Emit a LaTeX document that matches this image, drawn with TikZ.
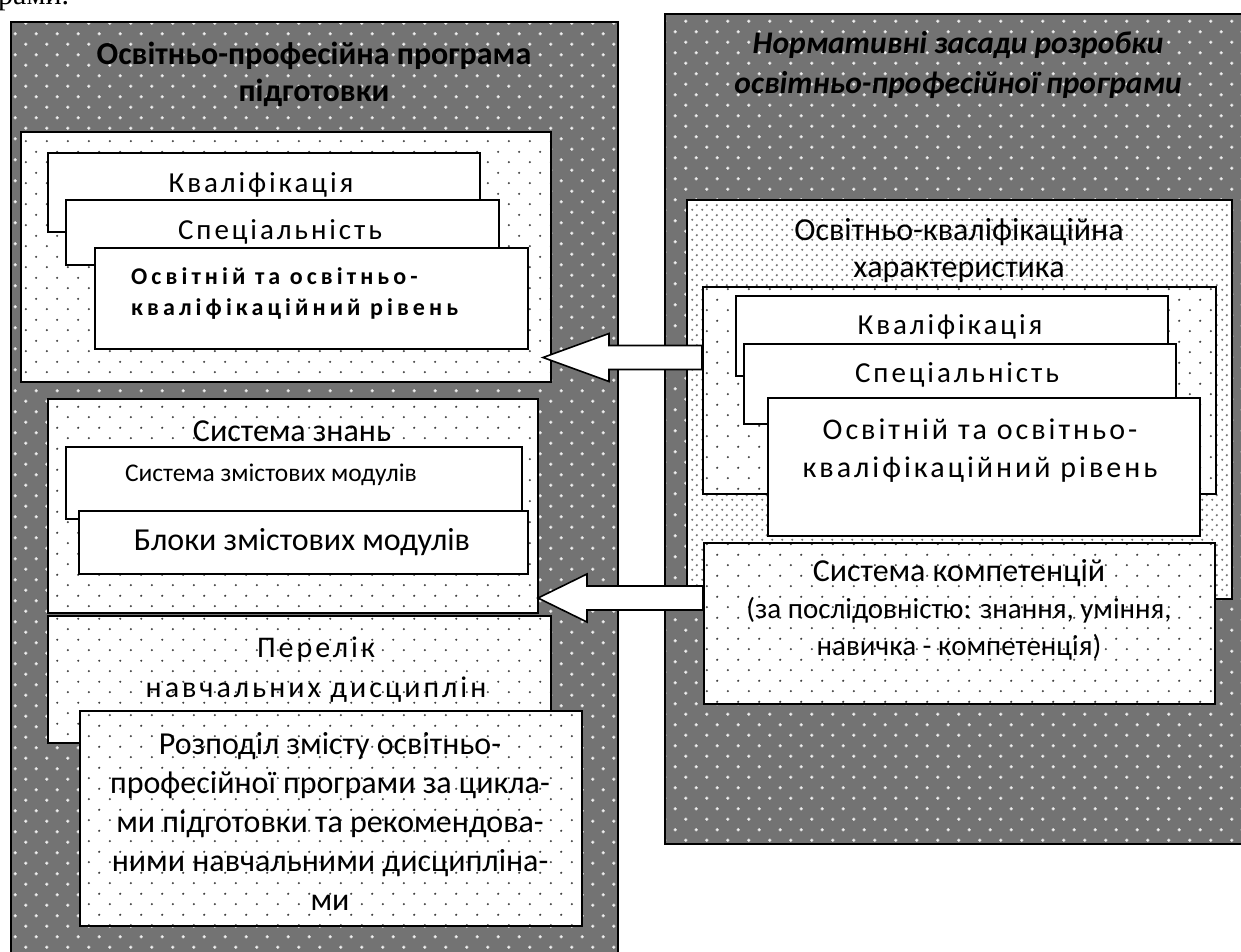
\documentclass[tikz,border=0pt]{standalone}
\usepackage{fontspec}
\setmainfont{Carlito}
\newfontfamily\spacedfont[LetterSpace=10]{Carlito}
\newfontfamily\widefont[LetterSpace=17]{Carlito}
\newfontfamily\pageserif{Liberation Serif}
\usetikzlibrary{patterns.meta,calc}

\tikzdeclarepattern{
	name=sparsedots,
	type=uncolored,
	bounding box={(0pt,0pt) and (21.3pt,21.3pt)},
	tile size={(21.3pt,21.3pt)},
	code={
		\pgfpathcircle{\pgfpoint{5pt}{5pt}}{1.2pt}
		\pgfpathcircle{\pgfpoint{15.65pt}{15.65pt}}{1.2pt}
		\pgfusepath{fill}
	}
}
\tikzdeclarepattern{
	name=finedots,
	type=uncolored,
	bounding box={(0pt,0pt) and (10pt,10pt)},
	tile size={(10pt,10pt)},
	code={
		\pgfpathcircle{\pgfpoint{2.5pt}{2.5pt}}{1.3pt}
		\pgfpathcircle{\pgfpoint{7.5pt}{7.5pt}}{1.3pt}
		\pgfusepath{fill}
	}
}
\tikzdeclarepattern{
	name=crossdots,
	type=uncolored,
	bounding box={(0pt,0pt) and (21.3pt,21.3pt)},
	tile size={(21.3pt,21.3pt)},
	code={
		\pgfpathrectangle{\pgfpoint{3.3pt}{4.45pt}}{\pgfpoint{3.4pt}{1.1pt}}
		\pgfpathrectangle{\pgfpoint{4.45pt}{3.3pt}}{\pgfpoint{1.1pt}{3.4pt}}
		\pgfpathrectangle{\pgfpoint{13.95pt}{15.1pt}}{\pgfpoint{3.4pt}{1.1pt}}
		\pgfpathrectangle{\pgfpoint{15.1pt}{13.95pt}}{\pgfpoint{1.1pt}{3.4pt}}
		\pgfusepath{fill}
	}
}

\tikzset{
	panel/.style={draw, line width=1.6pt, anchor=north west, inner sep=0pt, preaction={fill=black!55}, pattern=crossdots, pattern color=white},
	dotbox/.style={draw, line width=1.6pt, anchor=north west, inner sep=0pt, preaction={fill=white}, pattern=sparsedots, pattern color=black!75},
	finebox/.style={draw, line width=1.6pt, anchor=north west, inner sep=0pt, preaction={fill=white}, pattern=finedots, pattern color=black!55},
	plainbox/.style={draw, line width=1.6pt, anchor=north west, inner sep=0pt, fill=white},
	heading/.style={font=\bfseries\fontsize{32}{37}\selectfont, align=center},
	spaced/.style={font=\spacedfont\fontsize{29}{38}\selectfont, align=center},
	plain/.style={font=\fontsize{32}{38}\selectfont, align=center},
	blockarrow/.style={draw, line width=1.6pt, fill=white,
		to path={let \p1=(\tikztostart), \p2=(\tikztotarget) in
			(\x1,\y1+12pt) -- (\x2+#1,\y1+12pt) -- (\x2+#1,\y1+24pt) -- (\x2,\y2)
			-- (\x2+#1,\y1-24pt) -- (\x2+#1,\y1-12pt) -- (\x1,\y1-12pt) -- cycle}},
}

\begin{document}
\begin{tikzpicture}[x=1pt, y=-1pt]
	\useasboundingbox (0,0) rectangle (1241,951);
	\node[font=\pageserif\fontsize{30}{36}\selectfont, anchor=base west, inner sep=0pt] (prevline) at (-2,4) {рами.};

	\node[panel, minimum width=607, minimum height=950] (outerL) at (10,21) {};
	\node[heading] (titleL) at (314,74) {Освітньо-професійна програма\\підготовки};
	\node[dotbox, minimum width=530, minimum height=250] (groupA) at (20,131) {};
	\node[plainbox, minimum width=432, minimum height=79] (qualL) at (47,152) {};
	\node[spaced] (qualLtext) at (261,185) {Кваліфікація};
	\node[plainbox, minimum width=433, minimum height=65] (specL) at (65,199) {};
	\node[spaced] (specLtext) at (280,232) {Спеціальність};
	\node[plainbox, minimum width=433, minimum height=101] (levelL) at (94,247) {};
	\node[font=\widefont\bfseries\fontsize{24}{31}\selectfont, align=left, anchor=west, inner sep=0pt] (levelLtext) at (131,294) {Освітній та освітньо-\\кваліфікаційний рівень};
	\node[dotbox, minimum width=490, minimum height=214] (knowL) at (47,398) {};
	\node[plain] (knowLtext) at (292,431) {Система знань};
	\node[plainbox, minimum width=456, minimum height=72] (modsL) at (65,446) {};
	\node[font=\fontsize{25.5}{30}\selectfont] (modsLtext) at (271,475) {Система змістових модулів};
	\node[plainbox, minimum width=449, minimum height=63] (blocksL) at (78,510) {};
	\node[plain] (blocksLtext) at (302,542) {Блоки змістових модулів};
	\node[dotbox, minimum width=503, minimum height=127] (listL) at (47,615) {};
	\node[spaced, font=\spacedfont\fontsize{30}{40}\selectfont] (listLtext) at (316,670) {Перелік\\навчальних дисциплін};
	\node[dotbox, minimum width=502, minimum height=215] (distL) at (79,710) {};
	\node[plain, font=\fontsize{32}{39}\selectfont] (distLtext) at (330,821) {Розподіл змісту освітньо-\\професійної програми за цикла-\\ми підготовки та рекомендова-\\ними навчальними дисципліна-\\ми};

	\node[panel, minimum width=581, minimum height=830] (outerR) at (664,13) {};
	\node[heading, font=\bfseries\itshape\fontsize{31.5}{40}\selectfont] (titleR) at (958,65) {Нормативні засади розробки\\освітньо-професійної програми};
	\node[finebox, minimum width=545, minimum height=399] (okhR) at (686,199) {};
	\node[plain, font=\fontsize{32}{37}\selectfont] (okhRtext) at (959,251) {Освітньо-кваліфікаційна\\характеристика};
	\node[dotbox, minimum width=513, minimum height=207] (groupR) at (702,286) {};
	\node[plainbox, minimum width=432, minimum height=80] (qualR) at (735,295) {};
	\node[spaced] (qualRtext) at (950,327) {Кваліфікація};
	\node[plainbox, minimum width=432, minimum height=80] (specR) at (743,343) {};
	\node[spaced] (specRtext) at (957,375) {Спеціальність};
	\node[plainbox, minimum width=432, minimum height=138] (levelR) at (767,397) {};
	\node[spaced, font=\spacedfont\fontsize{30}{38}\selectfont] (levelRtext) at (980,451) {Освітній та освітньо-\\кваліфікаційний рівень};
	\node[dotbox, minimum width=511, minimum height=161] (compR) at (703,542) {};
	\node[plain, font=\fontsize{29}{37}\selectfont] (compRtext) at (959,610) {{\fontsize{32}{37}\selectfont Система компетенцій}\\(за послідовністю: знання, уміння,\\навичка - компетенція)};

	\coordinate (tipA) at (543,357.5);
	\coordinate (tipB) at (538,598);
	\draw[blockarrow=66pt] (groupR.west |- tipA) to (tipA);
	\draw[blockarrow=49pt] (compR.west |- tipB) to (tipB);
\end{tikzpicture}
\end{document}
